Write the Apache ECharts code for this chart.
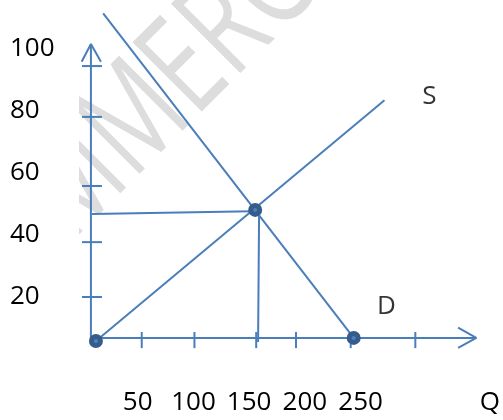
<!DOCTYPE html>
<html>
<head>
<meta charset="utf-8">
<script src="https://cdn.jsdelivr.net/npm/echarts@6/dist/echarts.min.js"></script>
<style>
html,body{margin:0;padding:0;background:#fff;}
#chart{width:503px;height:420px;}
</style>
</head>
<body>
<div id="chart"></div>
<script>
// ---- data (Q = quantity, P = price) ----
const qTickLabels = [50, 100, 150, 200, 250];
const qAxisTitle = ['Q', 366];
const pTickLabels = [20, 40, 60, 80, 100];
const supplyCurve = [[12.5, 5.8], [271.4, 83.5]];
const demandCurve = [[19.0, 111.5], [243.8, 6.8]];
const priceGuide = [[8.9, 46.8], [152.7, 47.7]];
const quantityGuide = [[158.9, 46.8], [158.0, 5.5]];
const pAxisLine = [[8.0, 6.8], [8.0, 101.6]];
const pAxisArrow = [[-0.3, 95.9], [8.0, 101.6], [17.0, 95.9]];
const qAxisLine = [[8.0, 6.8], [353.8, 6.8]];
const qAxisArrow = [[337.5, 10.1], [353.8, 6.8], [337.5, 3.6]];
const qTickMarks = [53.6, 100.9, 156.3, 192.0, 241.1, 299.1];
const qTickSpan = [3.5, 8.7];
const pTickMarks = [94.5, 78.1, 55.8, 37.7, 20.0];
const pTickSpan = [0, 17.9];
const keyPoints = [[12.5, 5.8], [155.4, 48.1], [243.8, 6.8]];
const curveLabels = [['S', 311.6, 84.5], ['D', 273.2, 16.8]];
const watermarkText = 'COMMERCE';

const BLUE = '#4A7EBB';
const FONT = 'Open Sans';

function seg(data) {
  return {
    type: 'line', data: data, symbol: 'none', silent: true, clip: false,
    lineStyle: { color: BLUE, width: 2 }, z: 3
  };
}

const series = [
  seg(supplyCurve), seg(demandCurve), seg(priceGuide), seg(quantityGuide),
  seg(pAxisLine), seg(pAxisArrow), seg(qAxisLine), seg(qAxisArrow)
];
qTickMarks.forEach(q => series.push(seg([[q, qTickSpan[0]], [q, qTickSpan[1]]])));
pTickMarks.forEach(p => series.push(seg([[pTickSpan[0], p], [pTickSpan[1], p]])));
series.push({
  type: 'scatter', data: keyPoints, symbol: 'circle', symbolSize: 9, silent: true, clip: false, z: 5,
  itemStyle: { color: '#4F81BD', borderColor: '#365C8C', borderWidth: 5, opacity: 1 }
});
series.push({
  type: 'scatter', symbolSize: 0, silent: true, clip: false, z: 5,
  data: curveLabels.map(d => ({ name: d[0], value: [d[1], d[2]] })),
  label: { show: true, position: 'inside', formatter: '{b}', color: '#000', fontSize: 26, fontFamily: FONT }
});

const chart = echarts.init(document.getElementById('chart'), null, { renderer: 'canvas' });
chart.setOption({
  animation: false,
  backgroundColor: '#fff',
  graphic: [
    {
      type: 'text', x: 138, y: 120, rotation: Math.PI / 4, scaleX: 1, scaleY: 1.4, z: 0,
      style: { text: watermarkText, fontSize: 98, fontFamily: FONT, fill: '#DDDDDD',
               textAlign: 'center', textVerticalAlign: 'middle' }
    },
    {
      type: 'rect', z: 1, shape: { x: 0, y: 0, width: 79, height: 420 },
      style: { fill: '#FFFFFF' }
    }
  ],
  grid: { left: 82, right: 1, top: 2.5, bottom: 61, containLabel: false },
  xAxis: {
    type: 'value', min: 0, max: 375, z: 5,
    axisLine: { show: false }, axisTick: { show: false }, splitLine: { show: false },
    axisLabel: {
      margin: 31, color: '#000', fontSize: 26, fontFamily: FONT,
      customValues: qTickLabels.concat([qAxisTitle[1]]),
      formatter: v => v === qAxisTitle[1] ? qAxisTitle[0] : String(v)
    }
  },
  yAxis: {
    type: 'value', min: 0, max: 115, z: 5,
    axisLine: { show: false }, axisTick: { show: false }, splitLine: { show: false },
    axisLabel: {
      margin: 72, align: 'left', color: '#000', fontSize: 26, fontFamily: FONT,
      customValues: pTickLabels
    }
  },
  series: series
});
</script>
</body>
</html>
